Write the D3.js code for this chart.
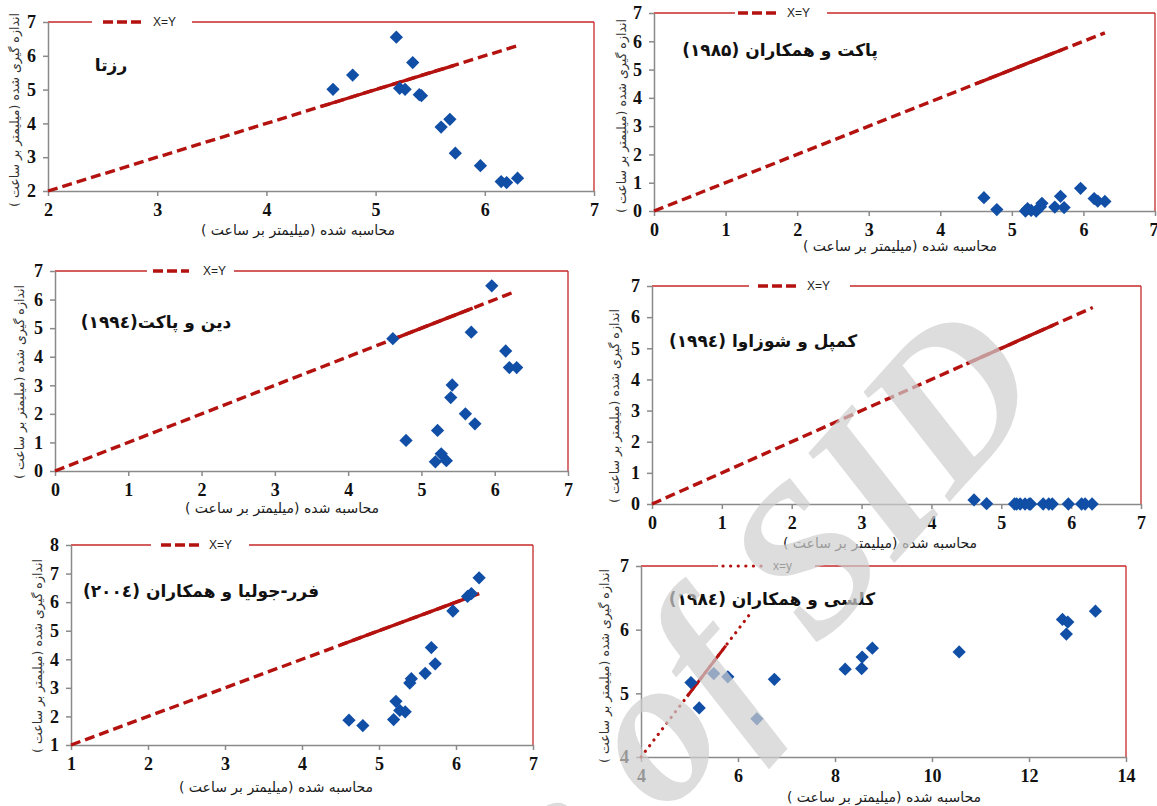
<!DOCTYPE html>
<html>
<head>
<meta charset="utf-8">
<script src="https://cdn.jsdelivr.net/npm/d3@7"></script>
<style>
body { margin: 0; background: #fff; }
svg { display: block; }
.axis path, .axis line { stroke: #8a8a8a; stroke-width: 1.5; }
.fa { font-family: "DejaVu Sans", sans-serif; }
</style>
</head>
<body>
<script>
// calculated values (x) shared by the first five studies
var calcX = [4.61, 4.79, 5.19, 5.22, 5.27, 5.34, 5.40, 5.42, 5.60, 5.68, 5.73, 5.96, 6.15, 6.20, 6.30];

// measured values (y) per study
var rosettaY = [5.01, 5.43, 6.55, 5.04, 5.01, 5.80, 4.85, 4.82, 3.89, 4.12, 3.12, 2.75, 2.28, 2.25, 2.38];
var pruitt85Y = [0.47, 0.05, 0.00, 0.08, 0.02, 0.00, 0.15, 0.27, 0.14, 0.52, 0.12, 0.80, 0.44, 0.35, 0.34];
var deanY = [4.63, 1.07, 0.32, 1.42, 0.60, 0.36, 2.57, 3.01, 2.00, 4.86, 1.65, 6.48, 4.20, 3.62, 3.62];
var campbellY = [0.13, 0.01, 0, 0, 0, 0, 0, 0, 0, 0, 0, 0, 0, 0, 0];
var ferrerY = [1.87, 1.68, 1.89, 2.53, 2.21, 2.16, 3.17, 3.32, 3.51, 4.41, 3.84, 5.69, 6.20, 6.30, 6.85];

// Kelsey et al. has its own x values
var kelseyX = [5.03, 5.20, 5.50, 5.79, 6.39, 6.75, 8.21, 8.55, 8.56, 8.77, 10.56, 12.69, 12.80, 12.77, 13.37];
var kelseyY = [5.17, 4.77, 5.31, 5.26, 4.60, 5.22, 5.38, 5.39, 5.57, 5.71, 5.65, 6.16, 6.12, 5.93, 6.29];

var titles = ["رزتا", "پاکت و همکاران (۱۹۸۵)", "دین و پاکت(۱۹۹٤)", "کمپل و شوزاوا (۱۹۹٤)",
              "فرر-جولیا و همکاران (۲۰۰٤)", "کلسی و همکاران (۱۹۸٤)"];
var legendLabels = ["X=Y", "X=Y", "X=Y", "X=Y", "X=Y", "x=y"];
var xDomains = [[2, 7], [0, 7], [0, 7], [0, 7], [1, 7], [4, 14]];
var yDomains = [[2, 7], [0, 7], [0, 7], [0, 7], [1, 8], [4, 7]];
// x=y line end, and the part of it drawn solid
var diagEnd = [6.3, 6.3, 6.27, 6.31, 6.3, 6.27];
var solidFrom = [4.5, 4.5, 4.6, 4.5, 4.5, 4.95];
var solidTo = [5.72, 5.7, 5.7, 5.75, 6.3, 5.75];

var xLabel = "محاسبه شده (میلیمتر بر ساعت )";
var yLabel = "اندازه گیری شده (میلیمتر بر ساعت )";

var seriesX = [calcX, calcX, calcX, calcX, calcX, kelseyX];
var seriesY = [rosettaY, pruitt85Y, deanY, campbellY, ferrerY, kelseyY];

// layout of the six panels: plot box [left, top, right, bottom]
var layout = [
  { box: [48, 22, 594, 191], leg: [44, 144, 55, 96, 105], title: [111, 65], xt: [298, 230], yt: [15, 110], xTicks: 6, yTicks: 6 },
  { box: [654, 13, 1155, 211], leg: [81, 173, 84, 126, 133], title: [780, 50], xt: [900, 246], yt: [622, 116], xTicks: 8, yTicks: 8 },
  { box: [55, 271, 568, 471], leg: [92, 179, 98, 134, 148], title: [156, 322], xt: [282, 508], yt: [20, 382], xTicks: 8, yTicks: 8 },
  { box: [652, 286, 1141, 504], leg: [97, 198, 106, 148, 155], title: [763, 341], xt: [880, 543], yt: [615, 406], xTicks: 8, yTicks: 8 },
  { box: [71, 545, 533, 745], leg: [80, 178, 90, 130, 138], title: [201, 591], xt: [276, 787], yt: [38, 656], xTicks: 7, yTicks: 8 },
  { box: [641, 566, 1126, 757], leg: [77, 174, 82, 122, 132], title: [772, 599], xt: [884, 797], yt: [605, 666], xTicks: 6, yTicks: 4 }
];

var red = "#b3120f", frameRed = "#c62828", blue = "#114ea6";

var svg = d3.select("body").append("svg")
  .attr("width", 1157)
  .attr("height", 806);

layout.forEach(function(L, i) {
  var left = L.box[0], top = L.box[1], right = L.box[2], bottom = L.box[3];
  var x = d3.scaleLinear().domain(xDomains[i]).range([left, right]);
  var y = d3.scaleLinear().domain(yDomains[i]).range([bottom, top]);
  var g = svg.append("g");
  var dotted = i === 5;

  // red frame: top (with gap for legend) and right
  g.append("line").attr("x1", left).attr("x2", left + L.leg[0]).attr("y1", top).attr("y2", top)
    .attr("stroke", frameRed).attr("stroke-width", 1.3);
  g.append("line").attr("x1", left + L.leg[1]).attr("x2", right).attr("y1", top).attr("y2", top)
    .attr("stroke", frameRed).attr("stroke-width", 1.3);
  g.append("line").attr("x1", right).attr("x2", right).attr("y1", top).attr("y2", bottom)
    .attr("stroke", frameRed).attr("stroke-width", 1.3);

  // axes
  var gx = g.append("g").attr("class", "axis")
    .attr("transform", "translate(0," + bottom + ")")
    .call(d3.axisBottom(x).ticks(L.xTicks).tickSize(5).tickSizeOuter(0).tickPadding(7).tickFormat(d3.format("d")));
  var gy = g.append("g").attr("class", "axis")
    .attr("transform", "translate(" + left + ",0)")
    .call(d3.axisLeft(y).ticks(L.yTicks).tickSize(5).tickSizeOuter(0).tickPadding(7).tickFormat(d3.format("d")));
  g.selectAll(".axis .domain").attr("stroke", "#8a8a8a");
  g.selectAll(".tick text")
    .style("font-family", "'Liberation Serif', 'Times New Roman', serif")
    .style("font-weight", "bold").style("font-size", "18px").attr("fill", "#111");
  // last x label of the top-right panel sits at the page edge
  if (i === 1) gx.selectAll(".tick:last-of-type text").attr("text-anchor", "end").attr("dx", 3);

  // x = y line
  var line = d3.line().x(function(d) { return x(d); }).y(function(d) { return y(d); });
  var lo = xDomains[i][0];
  g.append("path").datum([lo, diagEnd[i]])
    .attr("d", line).attr("fill", "none").attr("stroke", red)
    .attr("stroke-width", dotted ? 3.2 : 3.4)
    .attr("stroke-linecap", dotted ? "round" : "butt")
    .attr("stroke-dasharray", dotted ? "0.1,7" : "10,5");
  g.append("path").datum([solidFrom[i], solidTo[i]])
    .attr("d", line).attr("fill", "none").attr("stroke", red)
    .attr("stroke-width", dotted ? 3 : 3.4);

  // legend inside the top frame gap
  g.append("line").attr("x1", left + L.leg[2]).attr("x2", left + L.leg[3]).attr("y1", top).attr("y2", top)
    .attr("stroke", red).attr("stroke-width", dotted ? 3.2 : 3.6)
    .attr("stroke-linecap", dotted ? "round" : "butt")
    .attr("stroke-dasharray", dotted ? "0.1,7.5" : "10,4");
  g.append("text").attr("x", left + L.leg[4]).attr("y", top).attr("dy", "0.35em")
    .style("font-family", "Liberation Sans, Arial, sans-serif").style("font-size", "12px")
    .attr("fill", "#222").text(legendLabels[i]);

  // points: diamonds
  var pts = seriesX[i].map(function(v, k) { return [v, seriesY[i][k]]; });
  g.selectAll(".pt").data(pts).enter().append("path")
    .attr("d", d3.symbol().type(d3.symbolSquare).size(88))
    .attr("transform", function(d) { return "translate(" + x(d[0]) + "," + y(d[1]) + ") rotate(45)"; })
    .attr("fill", blue);

  // study title
  g.append("text").attr("class", "fa").attr("x", L.title[0]).attr("y", L.title[1]).attr("dy", "0.35em")
    .attr("text-anchor", "middle").attr("direction", "rtl")
    .style("font-size", "17px").style("font-weight", "bold").attr("fill", "#111")
    .text(titles[i]);

  // axis titles
  g.append("text").attr("class", "fa").attr("x", L.xt[0]).attr("y", L.xt[1]).attr("dy", "0.35em")
    .attr("text-anchor", "middle").attr("direction", "rtl")
    .style("font-size", "14px").attr("fill", "#1a1a1a").text(xLabel);
  g.append("text").attr("class", "fa")
    .attr("transform", "translate(" + L.yt[0] + "," + L.yt[1] + ") rotate(-90)").attr("dy", "0.35em")
    .attr("text-anchor", "middle").attr("direction", "rtl")
    .style("font-size", "12.5px").attr("fill", "#333").text(yLabel);
});

// faint archive watermark over the page
svg.append("text")
  .attr("transform", "translate(1052,388) rotate(-48)")
  .attr("text-anchor", "end")
  .style("font-family", "Liberation Serif, serif").style("font-style", "italic")
  .style("font-weight", "bold").style("font-size", "210px")
  .attr("fill", "#cfcfcf").attr("opacity", 0.7)
  .text("Archive of SID");
</script>
</body>
</html>
